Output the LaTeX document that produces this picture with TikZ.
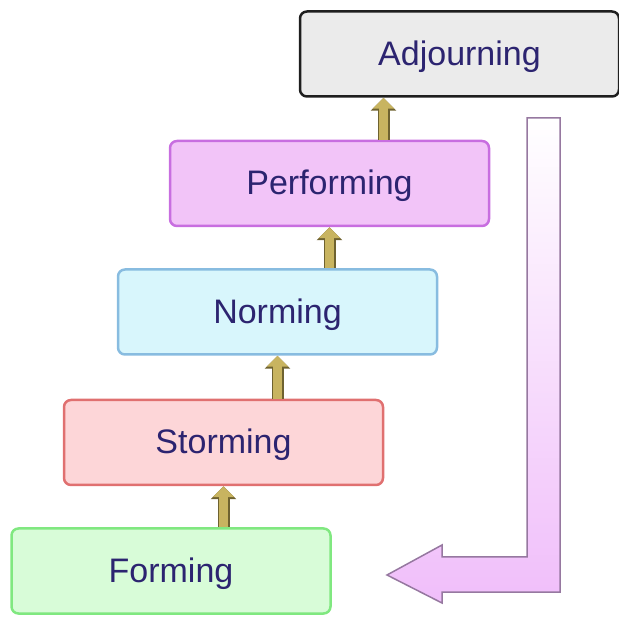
\documentclass[tikz,border=0pt]{standalone}
\usepackage{fontspec}
\setmainfont{Liberation Sans}
\usetikzlibrary{arrows.meta}

\definecolor{stagetext}{RGB}{44,36,112}
\definecolor{goldarrow}{RGB}{200,180,96}
\definecolor{goldedge}{RGB}{110,98,48}
\definecolor{bigviolet}{RGB}{240,190,250}
\definecolor{bigedge}{RGB}{150,120,160}

\tikzstyle{stage} = [rectangle, draw, line width=2.5pt, rounded corners=7pt,
    minimum width=319pt, minimum height=85pt, text=stagetext,
    text height=30pt, text depth=7pt, font=\fontsize{34}{40}\selectfont]
\tikzstyle{upstep} = [draw=goldarrow, line width=9pt,
    -{Triangle[width=21pt,length=11pt]},
    preaction={draw=goldedge, line width=12pt, -{Triangle[width=25pt,length=13pt]}}]

\begin{document}
\begin{tikzpicture}[x=1pt,y=-1pt]
  \useasboundingbox (0,0) rectangle (619,617);

  \node[stage, fill={rgb,255:red,235;green,235;blue,235}, draw={rgb,255:red,30;green,30;blue,30}]
        (adj)  at (459.5,54)  {Adjourning};
  \node[stage, fill={rgb,255:red,242;green,196;blue,248}, draw={rgb,255:red,200;green,110;blue,224}]
        (perf) at (329.5,183.5) {Performing};
  \node[stage, fill={rgb,255:red,216;green,246;blue,252}, draw={rgb,255:red,136;green,188;blue,224}]
        (norm) at (277.5,312) {Norming};
  \node[stage, fill={rgb,255:red,253;green,214;blue,216}, draw={rgb,255:red,224;green,112;blue,112}]
        (stor) at (223.5,442.5) {Storming};
  \node[stage, fill={rgb,255:red,216;green,252;blue,216}, draw={rgb,255:red,128;green,232;blue,128}]
        (form) at (171,571) {Forming};

  % steps up
  \draw[upstep] (form.north -| stor) -- (stor.south);
  \draw[upstep] (stor.north -| norm) -- (norm.south);
  \draw[upstep] (norm.north -| perf) -- (perf.south);
  \draw[upstep] ([xshift=54pt]perf.north) -- ([xshift=54pt]perf.north |- adj.south);

  % back to the start
  \coordinate (top) at (527,118);
  \coordinate (tip) at (387,575);
  \path[draw=bigedge, line width=1.5pt, top color=white, bottom color=bigviolet]
    (top) -- (560,118) -- (560,592) -- (442,592) -- (442,603) -- (tip)
    -- (442,545) -- (442,557) -- (527,557) -- cycle;
\end{tikzpicture}
\end{document}
